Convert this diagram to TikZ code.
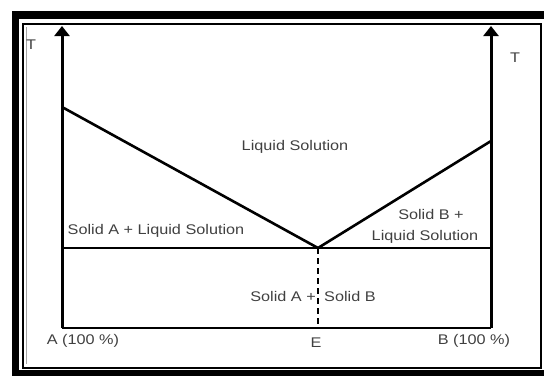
\documentclass[tikz,border=0pt]{standalone}
\usepackage{fontspec}
\setmainfont{Liberation Sans}
\usetikzlibrary{arrows.meta}
\tikzset{
  lbl/.style={inner sep=0pt, text=black!75, font=\fontsize{14}{16}\selectfont, xscale=1.16},
  phase/.style={line width=2.6pt, black},
  axis/.style={line width=3pt, black, -{Triangle[width=15pt,length=10pt]}},
}
\begin{document}
\begin{tikzpicture}[x=1pt,y=-1pt]
\useasboundingbox (0,0) rectangle (544,376);
% frame
\fill[black] (12,11) rectangle (544,19);
\fill[black] (12,11) rectangle (19,376);
\fill[black] (12,370) rectangle (544,376);
\draw[line width=2pt] (23,23.5) rectangle (541,367.5);
\draw[line width=1pt, black!35] (26.5,27) -- (26.5,364);
% coordinates
\coordinate (A0) at (62,328);
\coordinate (AT) at (62,26);
\coordinate (B0) at (491,328);
\coordinate (BT) at (491,26);
\coordinate (Am) at (62,107);
\coordinate (Bm) at (491,141);
\coordinate (Eu) at (318,248);
\coordinate (El) at (62,248);
\coordinate (Er) at (491,248);
\coordinate (Eb) at (318,328);
% axes
\draw[axis] (A0) -- (AT);
\draw[axis] (B0) -- (BT);
% lines
\draw[phase] (A0) -- (B0);
\draw[phase] (El) -- (Er);
\draw[phase, line join=round] (Am) -- (Eu) -- (Bm);
\draw[phase, dash pattern=on 6pt off 4pt] (Eu) -- (Eb);
% labels
\node[lbl] (tl) at (31,45) {T};
\node[lbl] (tr) at (515,58) {T};
\node[lbl] (liq) at (295,147) {Liquid Solution};
\node[lbl] (sal) at (156,231) {Solid A + Liquid Solution};
\node[lbl] (sb1) at (431,214) {Solid B +};
\node[lbl] (sb2) at (425,237) {Liquid Solution};
\node[lbl, anchor=east] (sa) at (316,296) {Solid A +};
\node[lbl, anchor=west] (sb) at (324,296) {Solid B};
\node[lbl] (la) at (83,341) {A (100 \%)};
\node[lbl] (le) at (316,343) {E};
\node[lbl] (lb) at (474,341) {B (100 \%)};
\end{tikzpicture}
\end{document}
